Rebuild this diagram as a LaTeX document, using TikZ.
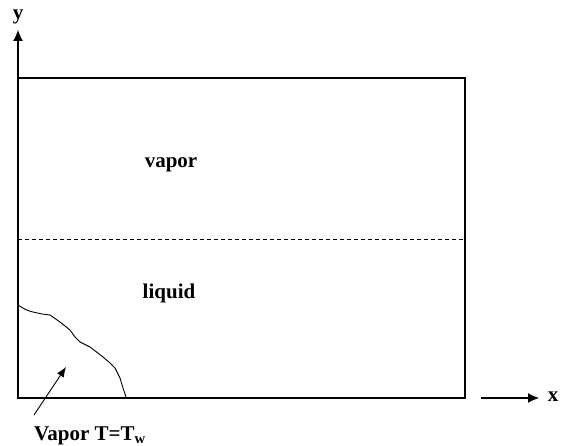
\documentclass[tikz,border=0pt]{standalone}
\usepackage{fontspec}
\setmainfont{Liberation Serif}
\usetikzlibrary{arrows.meta}
\begin{document}
\begin{tikzpicture}[x=1pt,y=-1pt,
  lbl/.style={font=\bfseries\fontsize{21}{25}\selectfont, inner sep=0pt},
  axis/.style={line width=1.2pt, -{Latex[length=11pt,width=10pt]}},
  box/.style={line width=1.2pt}]
\useasboundingbox (0,0) rectangle (564,446);
% coordinates of the domain
\coordinate (o) at (18,398);
\coordinate (ytip) at (18,30);
\coordinate (tl) at (18,78);
\coordinate (br) at (465,398);
\coordinate (xs) at (481,398);
\coordinate (xtip) at (539,398);
\coordinate (dl) at (18,239);
\coordinate (dr) at (465,239);
% axes and container
\draw[axis] (o) -- (ytip);
\draw[box] (tl) rectangle (br);
\draw[axis] (xs) -- (xtip);
\node[lbl] (ylab) at (18,17) {y};
\node[lbl] (xlab) at (553,397) {x};
% interface
\draw[line width=0.9pt, dash pattern=on 4pt off 3pt] (dl) -- (dr);
\node[lbl] (vap) at (171,165) {vapor};
\node[lbl] (liq) at (169,293) {liquid};
% vapor region at the wall corner
\draw[line width=0.9pt] (18,305) .. controls (24,309) and (28,311) .. (33,312)
  -- (42,314) -- (50,315) -- (60,322) -- (70,330) -- (75,337) -- (80,342)
  -- (90,347) -- (103,357) -- (110,363) -- (115,368) -- (120,378) -- (123,388) -- (126,397);
\coordinate (as) at (34,415);
\coordinate (ae) at (66,367);
\draw[line width=0.9pt, -{Latex[length=10pt,width=8pt]}] (as) -- (ae);
\node[lbl] (vt) at (90,436) {Vapor T=T\textsubscript{w}};
\end{tikzpicture}
\end{document}
